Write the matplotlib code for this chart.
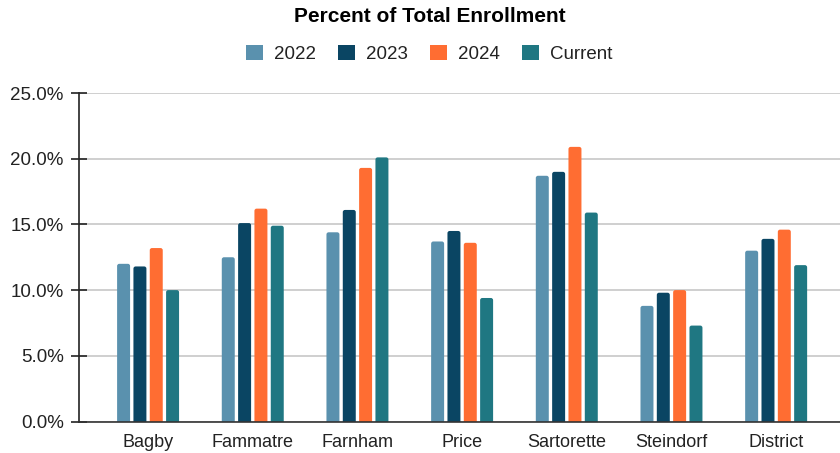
import matplotlib
matplotlib.use("Agg")
import matplotlib.pyplot as plt
from matplotlib.patches import FancyBboxPatch, Patch
import numpy as np

plt.rcParams['font.family'] = ['Liberation Sans', 'DejaVu Sans']

categories = ["Bagby", "Fammatre", "Farnham", "Price", "Sartorette", "Steindorf", "District"]
series_names = ["2022", "2023", "2024", "Current"]
v2022 = [12.0, 12.5, 14.4, 13.7, 18.7, 8.8, 13.0]
v2023 = [11.8, 15.1, 16.1, 14.5, 19.0, 9.8, 13.9]
v2024 = [13.2, 16.2, 19.3, 13.6, 20.9, 10.0, 14.6]
vcurrent = [10.0, 14.9, 20.1, 9.4, 15.9, 7.3, 11.9]
yticks = [0, 5, 10, 15, 20, 25]
colors = ["#5A91AE", "#0A4563", "#FF6D32", "#1F7782"]

fig = plt.figure(figsize=(8.4, 4.53), dpi=100)
ax = fig.add_axes([79/840, 1 - 421.5/453, 1 - 79/840, (421.5 - 93)/453])

x = np.arange(len(categories))
pitch = 0.156
width = 0.124
xlim = (-0.66, 6.61)
ylim = (0, 25)
ax.set_xlim(*xlim)
ax.set_ylim(*ylim)

bbox = ax.get_position()
px_x = bbox.width * 840 / (xlim[1] - xlim[0])
px_y = bbox.height * 453 / (ylim[1] - ylim[0])
r_px = 2.2
all_vals = [v2022, v2023, v2024, vcurrent]
for i, (name, vals, c) in enumerate(zip(series_names, all_vals, colors)):
    offs = (i - 1.5) * pitch
    bars = ax.bar(x + offs, vals, width, color=c, label=name, zorder=3)
    for b in bars:
        b.set_visible(False)
        bx, bw, bh = b.get_x(), b.get_width(), b.get_height()
        ext = 1.0
        p = FancyBboxPatch((bx, -ext), bw, bh + ext,
                           boxstyle=f"round,pad=0,rounding_size={r_px/px_x}",
                           mutation_aspect=px_x / px_y,
                           facecolor=c, edgecolor='none', zorder=3,
                           clip_on=True)
        ax.add_patch(p)

ax.set_yticks(yticks)
ax.set_yticklabels([f"{t:.1f}%" for t in yticks], fontsize=13.5, color="#222222")
ax.set_xticks(x)
ax.set_xticklabels(categories, fontsize=13, color="#222222")
ax.tick_params(axis='x', length=0, pad=9)
ax.tick_params(axis='y', direction='inout', length=12, width=1.2, color='#222222', pad=5)
ax.yaxis.grid(True, color='#cccccc', linewidth=1.3, zorder=0)
ax.set_axisbelow(True)
for s in ['top', 'right']:
    ax.spines[s].set_visible(False)
ax.spines['left'].set_color('#222222')
ax.spines['left'].set_linewidth(1.2)
ax.spines['bottom'].set_color('#333333')
ax.spines['bottom'].set_linewidth(1.2)
ax.spines['bottom'].set_zorder(4)

fig.text(429.5/840, 1 - 16/453, "Percent of Total Enrollment", ha='center', va='center',
         fontsize=15, fontweight='bold', color='#000000')

handles = [Patch(facecolor=c, edgecolor='none') for c in colors]
fig.legend(handles, series_names, loc='center', bbox_to_anchor=(429.5/840, 1 - 54/453),
           ncol=4, frameon=False, fontsize=13.5, handlelength=0.9, handleheight=0.9,
           handletextpad=0.6, columnspacing=1.17, labelcolor='#222222')

fig.savefig("out.png", dpi=100)
